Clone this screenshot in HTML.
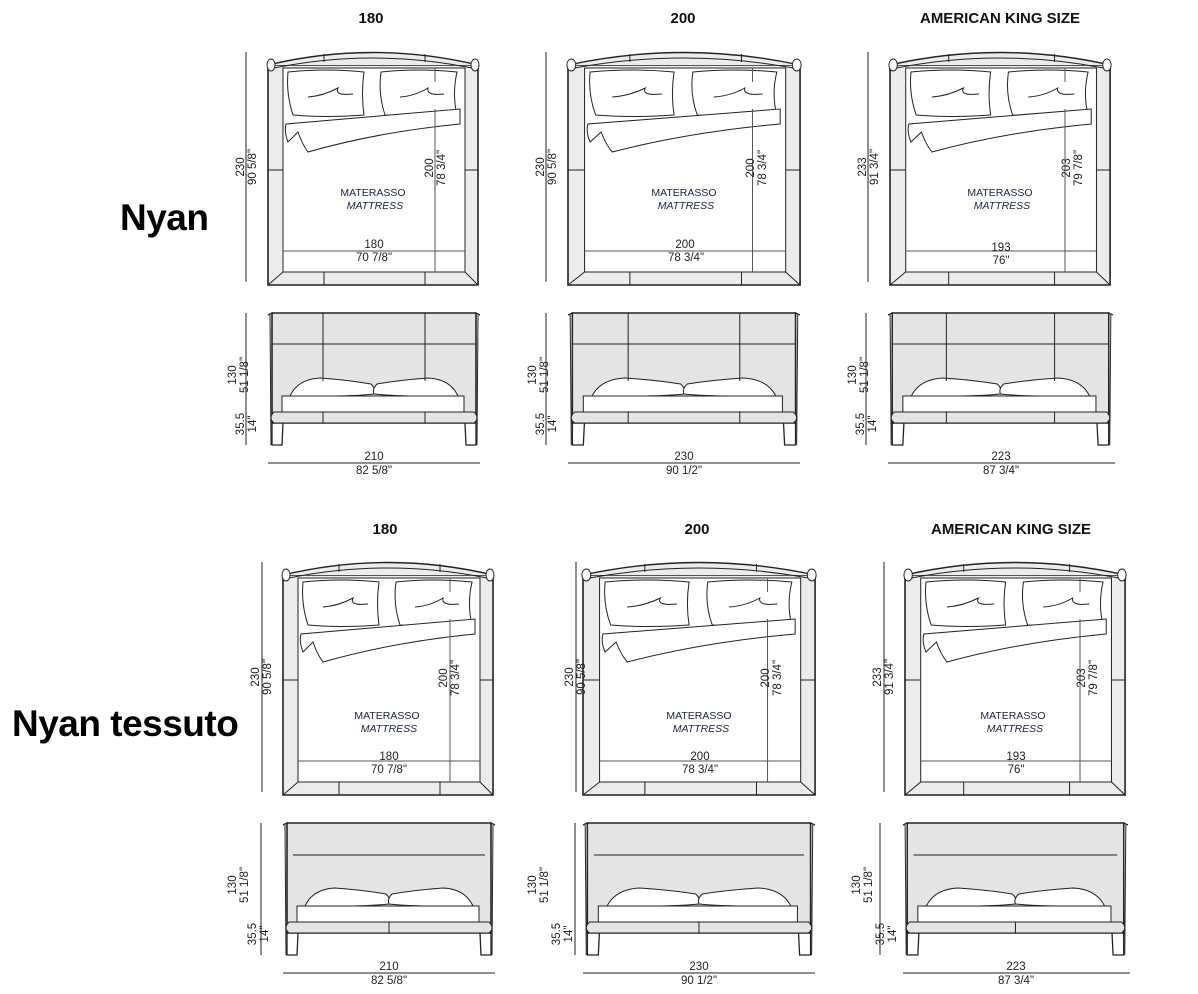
<!DOCTYPE html>
<html><head><meta charset="utf-8"><style>
html,body{margin:0;padding:0;background:#fff;}
svg{display:block;font-family:"Liberation Sans",Arial,sans-serif;}
.s *{vector-effect:non-scaling-stroke;}
text{fill:#222;font-size:11.5px;}
text.t{font-weight:bold;font-size:15px;fill:#111;}
text.b{font-weight:bold;fill:#000;font-size:37px;letter-spacing:-0.5px;}
text.m{fill:#1a2340;font-size:10.5px;}
</style></head><body>
<svg width="1198" height="994" viewBox="0 0 1198 994" xmlns="http://www.w3.org/2000/svg">
<defs>
<g id="top" class="s" stroke="#222" stroke-width="1" fill="none">
  <rect x="0" y="13" width="210" height="220" fill="#ececec" stroke-width="1.6"/>
  <rect x="15" y="16" width="182" height="204" fill="#fff"/>
  <path d="M0,13 Q105,-12 210,13" fill="#ececec" stroke-width="1.4"/>
  <path d="M6,16 Q105,-4 204,16" />
  <line x1="0" y1="233" x2="15" y2="220"/><line x1="210" y1="233" x2="197" y2="220"/>
  <line x1="56" y1="220" x2="56" y2="233"/><line x1="157" y1="220" x2="157" y2="233"/>
  <line x1="56" y1="2" x2="56" y2="10"/><line x1="157" y1="2" x2="157" y2="10"/>
  <line x1="0" y1="118" x2="15" y2="118"/><line x1="197" y1="118" x2="210" y2="118"/>
  <ellipse cx="3" cy="13" rx="4" ry="6" fill="#fff"/><ellipse cx="207" cy="13" rx="4" ry="6" fill="#fff"/>
  <line x1="15" y1="199" x2="197" y2="199" stroke="#555"/>
  <path d="M20,20 Q58,16 96,20 Q93,42 96,63 Q58,66 25,63 Q18,42 20,20 Z" fill="#fff"/>
  <path d="M113,20 Q150,16 189,20 Q184,42 189,63 Q150,66 117,63 Q110,42 113,20 Z" fill="#fff"/>
  <path d="M40,45 Q55,44 70,36 Q66,44 85,42"/><path d="M132,45 Q147,44 160,36 Q158,44 176,42"/>
  <path d="M192,72 Q110,80 40,100 Q34,92 30,80 L20,90 Q16,80 18,72 L192,57 Z" fill="#fff"/>
  <line x1="167" y1="57" x2="167" y2="220" stroke="#555"/>
  <line x1="167" y1="16" x2="167" y2="30" stroke="#555"/>
</g>
<g id="front" class="s" stroke="#222" stroke-width="1" fill="none">
  <rect x="4" y="0" width="204" height="110" fill="#e4e4e4" stroke-width="1.4"/>
  <path d="M0,2 L4,0 L4,132 L14,132 L15,110 M212,2 L208,0 L208,132 L198,132 L197,110" stroke-width="1.3"/>
  <path d="M2,2 L3,132 M210,2 L209,132"/>
  <path d="M22,83 Q30,66 52,65 Q80,67 103,71 Q108,76 106,81 Q80,84 22,83 Z" fill="#fff"/>
  <path d="M190,83 Q182,66 160,65 Q132,67 109,71 Q104,76 106,81 Q132,84 190,83 Z" fill="#fff"/>
  <rect x="14" y="83" width="182" height="16" fill="#fff"/>
  <path d="M6,99 L206,99 Q212,105 206,110 L6,110 Q0,105 6,99 Z" fill="#e4e4e4"/>
</g>
<g id="fgrid" class="s" stroke="#222" stroke-width="1">
  <line x1="55" y1="0" x2="55" y2="68"/><line x1="157" y1="0" x2="157" y2="68"/>
  <line x1="4" y1="31" x2="208" y2="31"/>
  <line x1="55" y1="99" x2="55" y2="110"/><line x1="157" y1="99" x2="157" y2="110"/>
</g>
<g id="fline" class="s" stroke="#222" stroke-width="1">
  <line x1="10" y1="32" x2="202" y2="32"/>
  <line x1="106" y1="99" x2="106" y2="110"/>
</g>
</defs>

<text class="t" x="371" y="23" text-anchor="middle">180</text>
<text class="t" x="683" y="23" text-anchor="middle">200</text>
<text class="t" x="1000" y="23" text-anchor="middle">AMERICAN KING SIZE</text>
<text class="t" x="385" y="534" text-anchor="middle">180</text>
<text class="t" x="697" y="534" text-anchor="middle">200</text>
<text class="t" x="1011" y="534" text-anchor="middle">AMERICAN KING SIZE</text>
<text class="b" x="120" y="230">Nyan</text>
<text class="b" x="12" y="736">Nyan tessuto</text>

<use href="#top" transform="translate(268,52)"/>
<use href="#top" transform="translate(568,52) scale(1.105,1)"/>
<use href="#top" transform="translate(890,52) scale(1.048,1)"/>
<use href="#top" transform="translate(283,562)"/>
<use href="#top" transform="translate(583,562) scale(1.105,1)"/>
<use href="#top" transform="translate(905,562) scale(1.048,1)"/>

<use href="#front" transform="translate(268,313)"/><use href="#fgrid" transform="translate(268,313)"/>
<use href="#front" transform="translate(568,313) scale(1.094,1)"/><use href="#fgrid" transform="translate(568,313) scale(1.094,1)"/>
<use href="#front" transform="translate(888,313) scale(1.061,1)"/><use href="#fgrid" transform="translate(888,313) scale(1.061,1)"/>
<use href="#front" transform="translate(283,823)"/><use href="#fline" transform="translate(283,823)"/>
<use href="#front" transform="translate(583,823) scale(1.094,1)"/><use href="#fline" transform="translate(583,823) scale(1.094,1)"/>
<use href="#front" transform="translate(903,823) scale(1.061,1)"/><use href="#fline" transform="translate(903,823) scale(1.061,1)"/>

<g stroke="#222" stroke-width="1">
  <line x1="246" y1="52" x2="246" y2="282"/><line x1="546" y1="52" x2="546" y2="282"/><line x1="868" y1="52" x2="868" y2="282"/>
  <line x1="262" y1="562" x2="262" y2="792"/><line x1="576" y1="562" x2="576" y2="792"/><line x1="884" y1="562" x2="884" y2="792"/>
  <line x1="246" y1="313" x2="246" y2="445"/><line x1="546" y1="313" x2="546" y2="445"/><line x1="866" y1="313" x2="866" y2="445"/>
  <line x1="261" y1="823" x2="261" y2="955"/><line x1="575" y1="823" x2="575" y2="955"/><line x1="880" y1="823" x2="880" y2="955"/>
  <line x1="268" y1="463" x2="480" y2="463"/><line x1="568" y1="463" x2="800" y2="463"/><line x1="888" y1="463" x2="1115" y2="463"/>
  <line x1="283" y1="973" x2="495" y2="973"/><line x1="583" y1="973" x2="815" y2="973"/><line x1="903" y1="973" x2="1130" y2="973"/>
</g>

<g>
<text transform="translate(244,167) rotate(-90)" text-anchor="middle">230</text>
<text transform="translate(256,167) rotate(-90)" text-anchor="middle">90 5/8"</text>
<text transform="translate(433,168) rotate(-90)" text-anchor="middle">200</text>
<text transform="translate(445,168) rotate(-90)" text-anchor="middle">78 3/4"</text>
<text x="373" y="196" text-anchor="middle" class="m">MATERASSO</text>
<text x="375" y="209" text-anchor="middle" class="m" font-style="italic">MATTRESS</text>
<text x="374" y="248" text-anchor="middle">180</text>
<text x="374" y="261" text-anchor="middle">70 7/8"</text>

<text transform="translate(544,167) rotate(-90)" text-anchor="middle">230</text>
<text transform="translate(556,167) rotate(-90)" text-anchor="middle">90 5/8"</text>
<text transform="translate(754,168) rotate(-90)" text-anchor="middle">200</text>
<text transform="translate(766,168) rotate(-90)" text-anchor="middle">78 3/4"</text>
<text x="684" y="196" text-anchor="middle" class="m">MATERASSO</text>
<text x="686" y="209" text-anchor="middle" class="m" font-style="italic">MATTRESS</text>
<text x="685" y="248" text-anchor="middle">200</text>
<text x="686" y="261" text-anchor="middle">78 3/4"</text>

<text transform="translate(866,167) rotate(-90)" text-anchor="middle">233</text>
<text transform="translate(878,167) rotate(-90)" text-anchor="middle">91 3/4"</text>
<text transform="translate(1070,168) rotate(-90)" text-anchor="middle">203</text>
<text transform="translate(1082,168) rotate(-90)" text-anchor="middle">79 7/8"</text>
<text x="1000" y="196" text-anchor="middle" class="m">MATERASSO</text>
<text x="1002" y="209" text-anchor="middle" class="m" font-style="italic">MATTRESS</text>
<text x="1001" y="251" text-anchor="middle">193</text>
<text x="1001" y="264" text-anchor="middle">76"</text>
</g>

<g>
<text transform="translate(259,677) rotate(-90)" text-anchor="middle">230</text>
<text transform="translate(271,677) rotate(-90)" text-anchor="middle">90 5/8"</text>
<text transform="translate(447,678) rotate(-90)" text-anchor="middle">200</text>
<text transform="translate(459,678) rotate(-90)" text-anchor="middle">78 3/4"</text>
<text x="387" y="719" text-anchor="middle" class="m">MATERASSO</text>
<text x="389" y="732" text-anchor="middle" class="m" font-style="italic">MATTRESS</text>
<text x="389" y="760" text-anchor="middle">180</text>
<text x="389" y="773" text-anchor="middle">70 7/8"</text>

<text transform="translate(573,677) rotate(-90)" text-anchor="middle">230</text>
<text transform="translate(585,677) rotate(-90)" text-anchor="middle">90 5/8"</text>
<text transform="translate(769,678) rotate(-90)" text-anchor="middle">200</text>
<text transform="translate(781,678) rotate(-90)" text-anchor="middle">78 3/4"</text>
<text x="699" y="719" text-anchor="middle" class="m">MATERASSO</text>
<text x="701" y="732" text-anchor="middle" class="m" font-style="italic">MATTRESS</text>
<text x="700" y="760" text-anchor="middle">200</text>
<text x="700" y="773" text-anchor="middle">78 3/4"</text>

<text transform="translate(881,677) rotate(-90)" text-anchor="middle">233</text>
<text transform="translate(893,677) rotate(-90)" text-anchor="middle">91 3/4"</text>
<text transform="translate(1085,678) rotate(-90)" text-anchor="middle">203</text>
<text transform="translate(1097,678) rotate(-90)" text-anchor="middle">79 7/8"</text>
<text x="1013" y="719" text-anchor="middle" class="m">MATERASSO</text>
<text x="1015" y="732" text-anchor="middle" class="m" font-style="italic">MATTRESS</text>
<text x="1016" y="760" text-anchor="middle">193</text>
<text x="1016" y="773" text-anchor="middle">76"</text>
</g>

<g>
<text transform="translate(236,375) rotate(-90)" text-anchor="middle">130</text>
<text transform="translate(248,375) rotate(-90)" text-anchor="middle">51 1/8"</text>
<text transform="translate(244,424) rotate(-90)" text-anchor="middle">35.5</text>
<text transform="translate(256,424) rotate(-90)" text-anchor="middle">14"</text>
<text x="374" y="460" text-anchor="middle">210</text>
<text x="374" y="474" text-anchor="middle">82 5/8"</text>

<text transform="translate(536,375) rotate(-90)" text-anchor="middle">130</text>
<text transform="translate(548,375) rotate(-90)" text-anchor="middle">51 1/8"</text>
<text transform="translate(544,424) rotate(-90)" text-anchor="middle">35.5</text>
<text transform="translate(556,424) rotate(-90)" text-anchor="middle">14"</text>
<text x="684" y="460" text-anchor="middle">230</text>
<text x="684" y="474" text-anchor="middle">90 1/2"</text>

<text transform="translate(856,375) rotate(-90)" text-anchor="middle">130</text>
<text transform="translate(868,375) rotate(-90)" text-anchor="middle">51 1/8"</text>
<text transform="translate(864,424) rotate(-90)" text-anchor="middle">35.5</text>
<text transform="translate(876,424) rotate(-90)" text-anchor="middle">14"</text>
<text x="1001" y="460" text-anchor="middle">223</text>
<text x="1001" y="474" text-anchor="middle">87 3/4"</text>
</g>
<g>
<text transform="translate(236,885) rotate(-90)" text-anchor="middle">130</text>
<text transform="translate(248,885) rotate(-90)" text-anchor="middle">51 1/8"</text>
<text transform="translate(256,934) rotate(-90)" text-anchor="middle">35.5</text>
<text transform="translate(268,934) rotate(-90)" text-anchor="middle">14"</text>
<text x="389" y="970" text-anchor="middle">210</text>
<text x="389" y="984" text-anchor="middle">82 5/8"</text>

<text transform="translate(536,885) rotate(-90)" text-anchor="middle">130</text>
<text transform="translate(548,885) rotate(-90)" text-anchor="middle">51 1/8"</text>
<text transform="translate(560,934) rotate(-90)" text-anchor="middle">35.5</text>
<text transform="translate(572,934) rotate(-90)" text-anchor="middle">14"</text>
<text x="699" y="970" text-anchor="middle">230</text>
<text x="699" y="984" text-anchor="middle">90 1/2"</text>

<text transform="translate(860,885) rotate(-90)" text-anchor="middle">130</text>
<text transform="translate(872,885) rotate(-90)" text-anchor="middle">51 1/8"</text>
<text transform="translate(884,934) rotate(-90)" text-anchor="middle">35.5</text>
<text transform="translate(896,934) rotate(-90)" text-anchor="middle">14"</text>
<text x="1016" y="970" text-anchor="middle">223</text>
<text x="1016" y="984" text-anchor="middle">87 3/4"</text>
</g>
</svg>
</body></html>
